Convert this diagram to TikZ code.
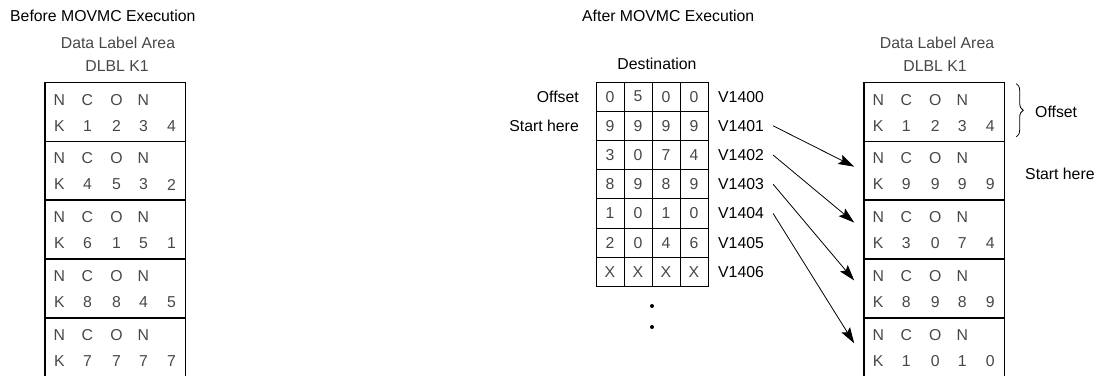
\documentclass[tikz,border=0pt]{standalone}
\usepackage{fontspec}
\setmainfont{Liberation Sans}
\usetikzlibrary{arrows.meta,decorations.pathreplacing}

\begin{document}
\begin{tikzpicture}[x=1pt, y=-1pt,
  every node/.style={inner sep=0pt, font=\fontsize{15.8}{18}\selectfont},
  lite/.style={text=black!72},
  dlblock/.style={draw, line width=1.4pt, minimum width=140.6pt, minimum height=58.9pt},
  gridcell/.style={draw, line width=.9pt, minimum width=28pt, minimum height=29.2pt, text=black!72},
  movarrow/.style={line width=.8pt, -{Stealth[length=16pt, width=10pt, inset=3pt]}}]
  \useasboundingbox (0,0) rectangle (1103,375);

  % Before execution
  \node[anchor=west] (beforetitle) at (10,16) {Before MOVMC Execution};
  \node[lite] (leftarea) at (118,43) {Data Label Area};
  \node[lite] (leftdlbl) at (117,66) {DLBL K1};
  \foreach \da/\db/\dc/\dd [count=\i] in {1/2/3/4, 4/5/3/2, 6/1/5/1, 8/8/4/5, 7/7/7/7} {
    \node[dlblock] (lb\i) at (115.4,{82.3+(\i-.5)*58.9}) {};
    \path (lb\i.north west) ++(15,18) node[lite] {N} ++(28,0) node[lite] {C} ++(29,0) node[lite] {O} ++(27,0) node[lite] {N};
    \path (lb\i.north west) ++(15,44) node[lite] {K} ++(28,0) node[lite] {\da} ++(29,0) node[lite] {\db} ++(27,0) node[lite] {\dc} ++(28,0) node[lite] {\dd};
  }

  % After execution: destination table
  \node[anchor=west] (aftertitle) at (582,16) {After MOVMC Execution};
  \node (dest) at (657,64) {Destination};
  \foreach \adr/\da/\db/\dc/\dd [count=\r] in {1400/0/5/0/0, 1401/9/9/9/9, 1402/3/0/7/4, 1403/8/9/8/9, 1404/1/0/1/0, 1405/2/0/4/6, 1406/X/X/X/X} {
    \foreach \v [count=\k] in {\da,\db,\dc,\dd}
      \node[gridcell] (g\r\k) at ({610+(\k-1)*28},{82+(\r-.5)*29.2}) {\v};
    \node[anchor=west] (v\adr) at (718,{82+(\r-.5)*29.2}) {V\adr};
  }
  \node[anchor=east] (offsetlbl) at (579,97) {Offset};
  \node[anchor=east] (startlbl) at (579,126) {Start here};
  \fill (652,306) circle (2pt);
  \fill (652,327) circle (2pt);

  % After execution: data label area
  \node[lite] (rightarea) at (937,43) {Data Label Area};
  \node[lite] (rightdlbl) at (935,66) {DLBL K1};
  \foreach \da/\db/\dc/\dd [count=\i] in {1/2/3/4, 9/9/9/9, 3/0/7/4, 8/9/8/9, 1/0/1/0} {
    \node[dlblock] (rb\i) at (934.2,{82.3+(\i-.5)*58.9}) {};
    \path (rb\i.north west) ++(15,18) node[lite] {N} ++(28,0) node[lite] {C} ++(29,0) node[lite] {O} ++(27,0) node[lite] {N};
    \path (rb\i.north west) ++(15,44) node[lite] {K} ++(28,0) node[lite] {\da} ++(29,0) node[lite] {\db} ++(27,0) node[lite] {\dc} ++(28,0) node[lite] {\dd};
  }
  \draw[line width=.8pt, decorate, decoration={brace, amplitude=7pt}] ([xshift=11pt,yshift=-2pt]rb1.north east) -- ([xshift=11pt,yshift=5pt]rb1.south east);
  \node[anchor=west] (offsetnote) at (1035,112) {Offset};
  \node[anchor=west] (startnote) at (1025,174) {Start here};

  \draw[movarrow] ([xshift=9pt]v1401.east) -- ([xshift=-9pt,yshift=4pt]rb2.west);
  \draw[movarrow] ([xshift=9pt]v1402.east) -- ([xshift=-9pt,yshift=7pt]rb3.west);
  \draw[movarrow] ([xshift=9pt]v1403.east) -- ([xshift=-9pt,yshift=8pt]rb4.west);
  \draw[movarrow] ([xshift=9pt]v1404.east) -- ([xshift=-9pt,yshift=4pt]rb5.west);
\end{tikzpicture}
\end{document}
